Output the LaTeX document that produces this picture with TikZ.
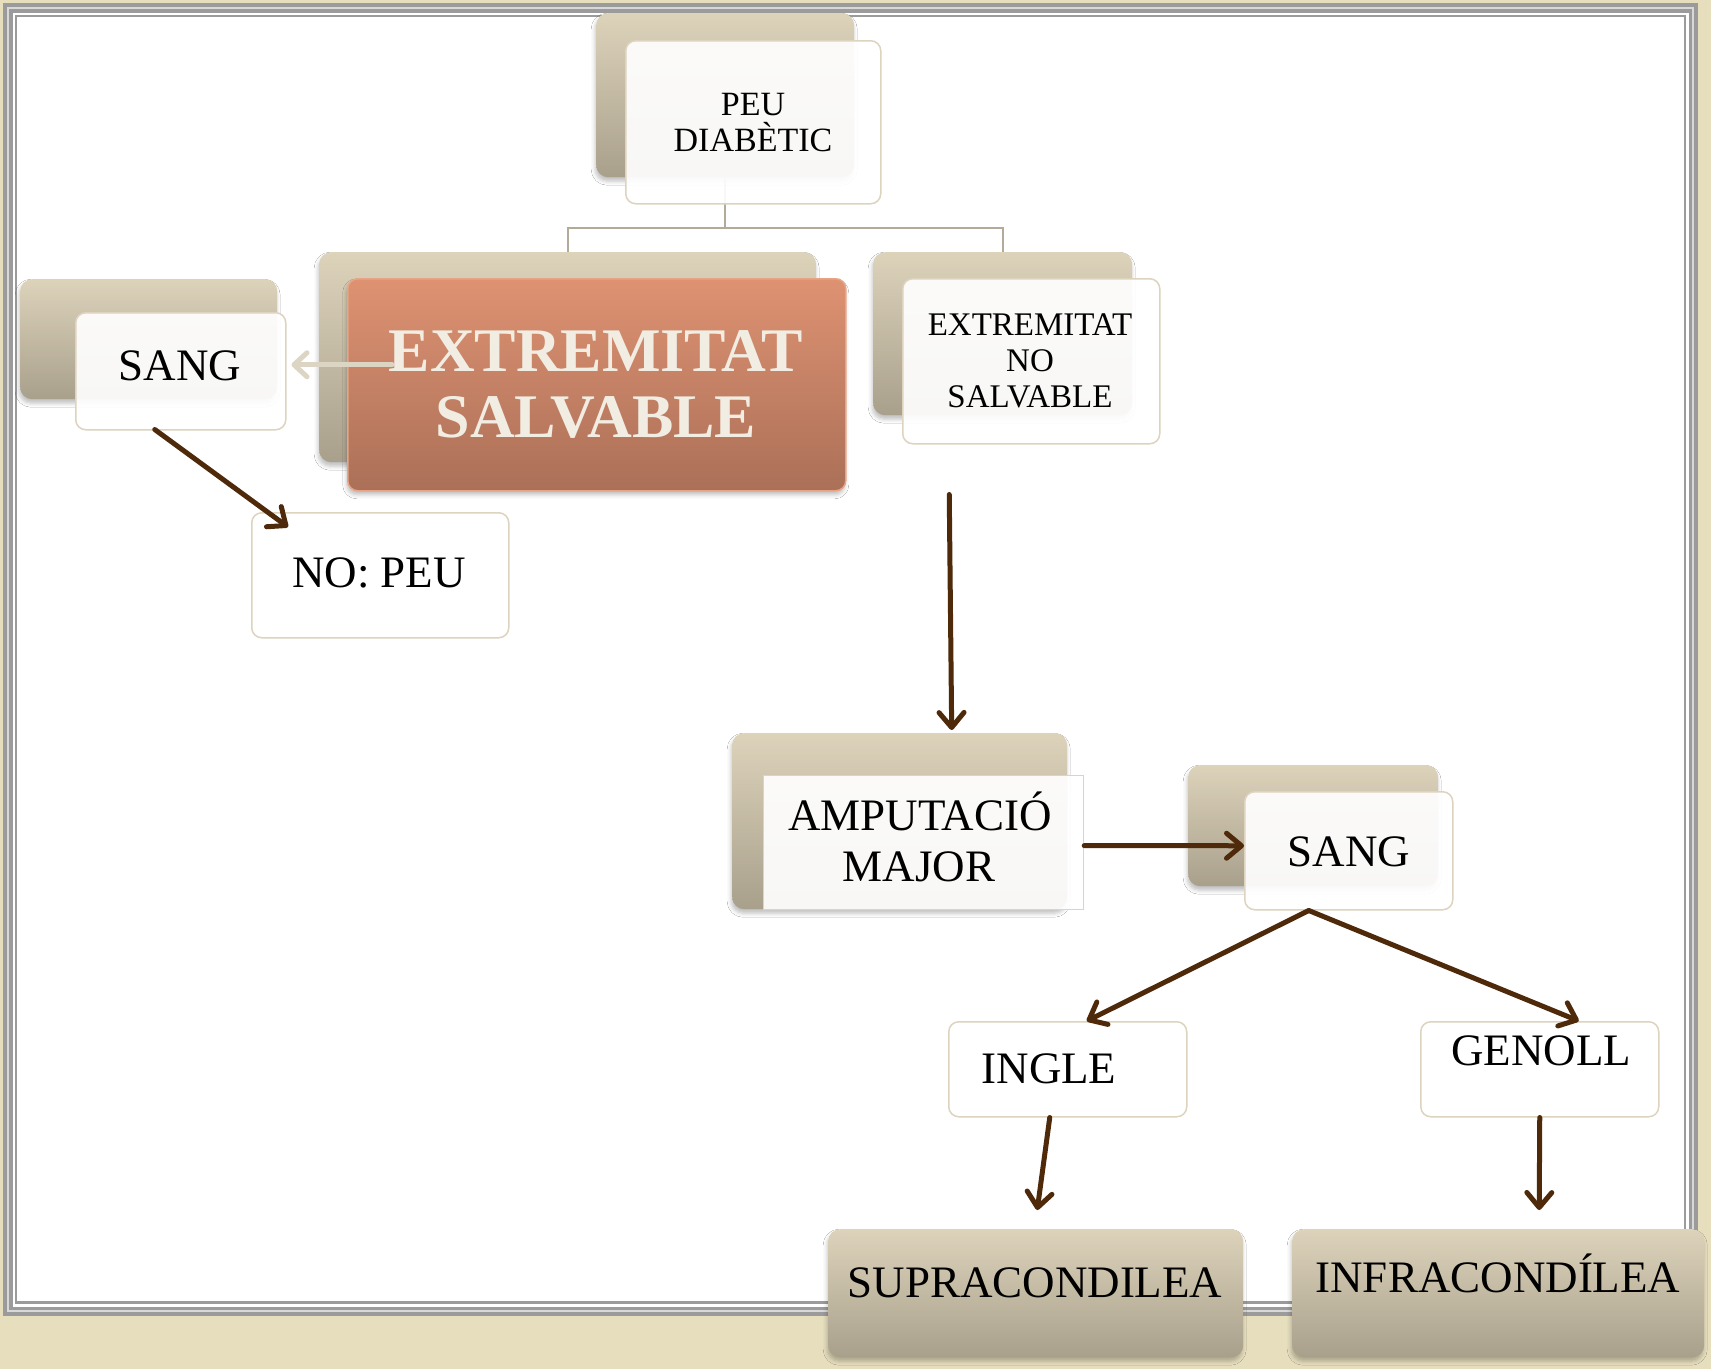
\documentclass[tikz,border=0pt]{standalone}
\usepackage{fontspec}
\setmainfont{Liberation Serif}
\usetikzlibrary{arrows.meta,calc,shadows,shadows.blur}
\definecolor{bgbeige}{HTML}{E6DEBD}
\definecolor{framegray}{HTML}{9B9B9B}
\definecolor{framelight}{HTML}{D8D8D8}
\definecolor{tanTop}{HTML}{DDD3BB}
\definecolor{tanBot}{HTML}{A9A08C}
\definecolor{frontEdge}{HTML}{DDD3BF}
\definecolor{orTop}{HTML}{DE9272}
\definecolor{orBot}{HTML}{AB7058}
\definecolor{orEdge}{HTML}{E7A586}
\definecolor{cream}{HTML}{F1EDE3}
\definecolor{treeline}{HTML}{B3AA9A}
\definecolor{arrbrown}{HTML}{4E2A0A}
\definecolor{fadearr}{HTML}{DDD5C3}
\tikzset{
  sh/.style={blur shadow={shadow xshift=-1pt, shadow yshift=-4pt, shadow blur radius=4pt, shadow opacity=25}},
  backbox/.style={rounded corners=12pt, top color=tanTop, bottom color=tanBot, draw=none, inner sep=0pt, anchor=north west, sh},
  frontbox/.style={rounded corners=10pt, fill=white, fill opacity=0.92, draw=frontEdge, line width=1.5pt, inner sep=0pt, anchor=north west},
  plainbox/.style={rounded corners=10pt, fill=white, draw=frontEdge, line width=1.5pt, inner sep=0pt, anchor=north west},
  leafbox/.style={rounded corners=12pt, top color=tanTop, bottom color=tanBot, draw=none, inner sep=0pt, anchor=north west, sh},
  txt/.style={anchor=base, inner sep=0pt, text=black},
  big/.style={font=\fontsize{45}{50}\selectfont},
  small/.style={font=\fontsize{34}{37}\selectfont},
  arr/.style={draw=arrbrown, line width=5pt, line cap=round, -{Straight Barb[length=15pt,width=25pt,round]}},
  tree/.style={draw=treeline, line width=2pt},
}
\begin{document}
\begin{tikzpicture}[x=1pt,y=-1pt]
\useasboundingbox (0,0) rectangle (1711,1369);
% background and frame
\fill[bgbeige] (0,0) rectangle (1711,1369);
\fill[framelight] (3.3,3.3) rectangle (1698,1316);
\draw[framegray, line width=4pt] (5.3,5.3) rectangle (1696,1314);
\draw[framegray, line width=3.3pt] (11,11) rectangle (1690.5,1308.5);
\fill[white] (12.6,12.6) rectangle (1688.8,1306.8);
\draw[framegray, line width=2.3pt] (16.2,16.2) rectangle (1685,1302.5);
\fill[white] (17.3,17.3) rectangle (1683.8,1301.3);

% back boxes
\node[backbox, minimum width=258pt, minimum height=164pt] (peuB) at (596,13) {};
\node[backbox, minimum width=497pt, minimum height=210pt] (salB) at (319,252) {};
\node[backbox, minimum width=257pt, minimum height=120pt] (sangB) at (20,279) {};
\node[backbox, minimum width=259pt, minimum height=163pt] (nsB) at (873,252) {};
\node[backbox, minimum width=335pt, minimum height=176pt] (ampB) at (732,733) {};
\node[backbox, minimum width=250pt, minimum height=121pt] (sangBB) at (1188,765) {};

% tree connectors
\draw[tree] (peuB.south) -- ++(0,51) -| (salB.north);
\draw[tree] (peuB.south) -- ++(0,51) -| (nsB.north);

% front boxes
\node[frontbox, minimum width=255pt, minimum height=163pt] (peuF) at (625,40) {};
\node[rounded corners=10pt, top color=orTop, bottom color=orBot, draw=orEdge, line width=1.5pt, inner sep=0pt, anchor=north west, minimum width=498pt, minimum height=212pt, sh] (salF) at (347,278) {};
\node[frontbox, minimum width=210pt, minimum height=117pt] (sangF) at (75,312) {};
\node[frontbox, minimum width=257pt, minimum height=165pt] (nsF) at (902,278) {};
\node[plainbox, minimum width=257pt, minimum height=125pt] (nopeu) at (251,512) {};
\node[frontbox, rounded corners=0pt, line width=1.2pt, minimum width=320pt, minimum height=134pt] (ampF) at (763,775) {};
\node[frontbox, minimum width=208pt, minimum height=118pt] (sangFF) at (1244,791) {};
\node[plainbox, minimum width=238pt, minimum height=95pt] (ingle) at (948,1021) {};
\node[plainbox, minimum width=238pt, minimum height=95pt] (genoll) at (1420,1021) {};
\node[leafbox, minimum width=415pt, minimum height=128pt] (supra) at (828,1229) {};
\node[leafbox, minimum width=412pt, minimum height=128pt] (infra) at (1292,1229) {};

% faded arrow
\draw[draw=fadearr, line width=5pt, line cap=round, -{Straight Barb[length=13pt,width=24pt,round]}]
  ([xshift=45pt,yshift=20pt]salF.west) -- ([xshift=5pt,yshift=6.5pt]sangF.east);

% texts
\node[txt, small] (tPeu1) at (753,115) {PEU};
\node[txt, small] (tPeu2) at (753,151) {DIABÈTIC};
\node[txt, font=\bfseries\fontsize{62}{66}\selectfont, text=cream] (tSal1) at (596,371) {EXTREMITAT};
\node[txt, font=\bfseries\fontsize{62}{66}\selectfont, text=cream] (tSal2) at (596,437) {SALVABLE};
\node[txt, big] (tSang) at (180,380) {SANG};
\node[txt, font=\fontsize{33}{36}\selectfont] (tNs1) at (1030,335) {EXTREMITAT};
\node[txt, font=\fontsize{33}{36}\selectfont] (tNs2) at (1030,371) {NO};
\node[txt, font=\fontsize{33}{36}\selectfont] (tNs3) at (1030,407) {SALVABLE};
\node[txt, big] (tNoPeu) at (379,587) {NO: PEU};
\node[txt, big] (tAmp1) at (920,830) {AMPUTACIÓ};
\node[txt, big] (tAmp2) at (919,881) {MAJOR};
\node[txt, big] (tSang2) at (1349,866) {SANG};
\node[txt, big] (tIngle) at (1049,1083) {INGLE};
\node[txt, big] (tGenoll) at (1541,1065) {GENOLL};
\node[txt, big] (tSupra) at (1035,1297) {SUPRACONDILEA};
\node[txt, big] (tInfra) at (1498,1292) {INFRACONDÍLEA};

% arrows
\draw[arr] ([xshift=-26pt,yshift=1pt]sangF.south) -- ([xshift=37pt,yshift=-15pt]nopeu.north west);
\draw[arr] ([xshift=-82pt,yshift=-50pt]nsF.south) -- ([xshift=52pt,yshift=3pt]ampB.north);
\draw[arr] ([yshift=-3pt]ampF.east) -- ([yshift=5pt]sangFF.west);
\draw[arr] ([xshift=-40pt]sangFF.south) -- ([xshift=19pt]ingle.north);
\draw[arr] ([xshift=-40pt]sangFF.south) -- ([xshift=39pt]genoll.north);
\draw[arr] ([xshift=-18pt]ingle.south) -- ([xshift=1.5pt,yshift=19pt]supra.north);
\draw[arr] (genoll.south) -- ([xshift=41pt,yshift=19pt]infra.north);
\end{tikzpicture}
\end{document}
